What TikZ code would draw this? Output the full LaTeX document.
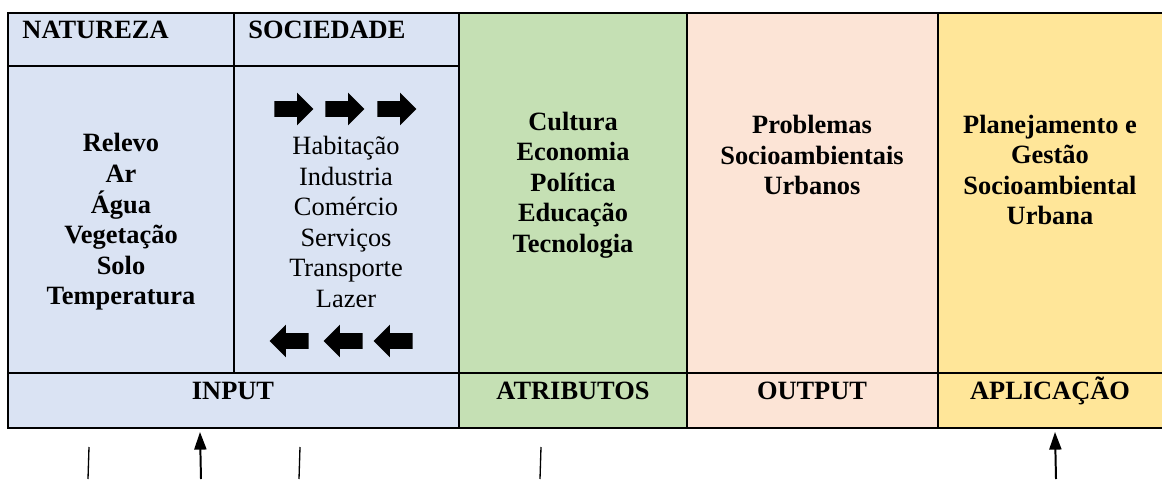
\documentclass[tikz,border=0pt]{standalone}
\usepackage{fontspec}
\setmainfont{Liberation Serif}
\usepackage{tikz}
\usetikzlibrary{shapes.arrows,arrows.meta}
\definecolor{colnat}{RGB}{218,227,243}
\definecolor{colatr}{RGB}{197,224,180}
\definecolor{colout}{RGB}{252,228,214}
\definecolor{colapl}{RGB}{255,230,153}

\begin{document}
\begin{tikzpicture}[x=0.4545pt,y=-0.4545pt,
  every node/.style={font=\fontsize{12}{13.9}\selectfont, align=center, inner sep=0pt},
  blockarrow/.style={single arrow, fill=black, minimum height=17.7pt, text height=6.8pt, text depth=0pt, single arrow head extend=3.85pt}]
\useasboundingbox (0,0) rectangle (1162,479);

%Faces
\fill[color=colnat] (8,13) rectangle (459,428);
\fill[color=colatr] (459,13) rectangle (687,428);
\fill[color=colout] (687,13) rectangle (938,428);
\fill[color=colapl] (938,13) rectangle (1162,428);

%Lines
\draw[line width=1.1pt] (1162,13) -- (8,13) -- (8,428) -- (1162,428);
\draw[line width=0.8pt] (459,13) -- (459,428);
\draw[line width=0.8pt] (687,13) -- (687,428);
\draw[line width=0.8pt] (938,13) -- (938,428);
\draw[line width=0.6pt] (234,13) -- (234,373);
\draw[line width=0.5pt] (8,66) -- (459,66);
\draw[line width=0.5pt] (8,373) -- (1162,373);

% Points
\node[anchor=base west] (nat) at (22,39) {\bfseries NATUREZA};
\node[anchor=base west] (soc) at (248,39) {\bfseries SOCIEDADE};
\node (natlist) at (121,222) {\bfseries Relevo\\\bfseries Ar\\\bfseries Água\\\bfseries Vegetação\\\bfseries Solo\\\bfseries Temperatura};
\node (soclist) at (346,222) {Habitação\\Industria\\Comércio\\Serviços\\Transporte\\Lazer};
\node (atrlist) at (573,185) {\bfseries Cultura\\\bfseries Economia\\\bfseries Política\\\bfseries Educação\\\bfseries Tecnologia};
\node (outlist) at (812,155) {\bfseries Problemas\\\bfseries Socioambientais\\\bfseries Urbanos};
\node (apllist) at (1050,170) {\bfseries Planejamento e\\\bfseries Gestão\\\bfseries Socioambiental\\\bfseries Urbana};
\node (input) at (233,391) {\bfseries INPUT};
\node (atributos) at (573,391) {\bfseries ATRIBUTOS};
\node (output) at (812,391) {\bfseries OUTPUT};
\node (aplicacao) at (1050,391) {\bfseries APLICAÇÃO};

% Block arrows
\node[blockarrow] (r1) at (290,109) {};
\node[blockarrow] (r2) at (341,109) {};
\node[blockarrow] (r3) at (393,109) {};
\node[blockarrow, shape border rotate=180] (l1) at (293,341) {};
\node[blockarrow, shape border rotate=180] (l2) at (347,341) {};
\node[blockarrow, shape border rotate=180] (l3) at (397,341) {};

% Bottom connectors
\coordinate (b1) at (89,447);
\coordinate (b1e) at (88,479);
\coordinate (b2) at (200,432);
\coordinate (b2e) at (201,479);
\coordinate (b3) at (300,447);
\coordinate (b3e) at (299,479);
\coordinate (b4) at (541,447);
\coordinate (b4e) at (540,479);
\coordinate (b5) at (1055,432);
\coordinate (b5e) at (1056,479);
\draw[line width=0.6pt] (b1) -- (b1e);
\draw[line width=0.9pt, -{Triangle[length=8pt,width=5.5pt]}] (b2e) -- (b2);
\draw[line width=0.6pt] (b3) -- (b3e);
\draw[line width=0.6pt] (b4) -- (b4e);
\draw[line width=0.9pt, -{Triangle[length=8pt,width=5.5pt]}] (b5e) -- (b5);
\end{tikzpicture}
\end{document}
